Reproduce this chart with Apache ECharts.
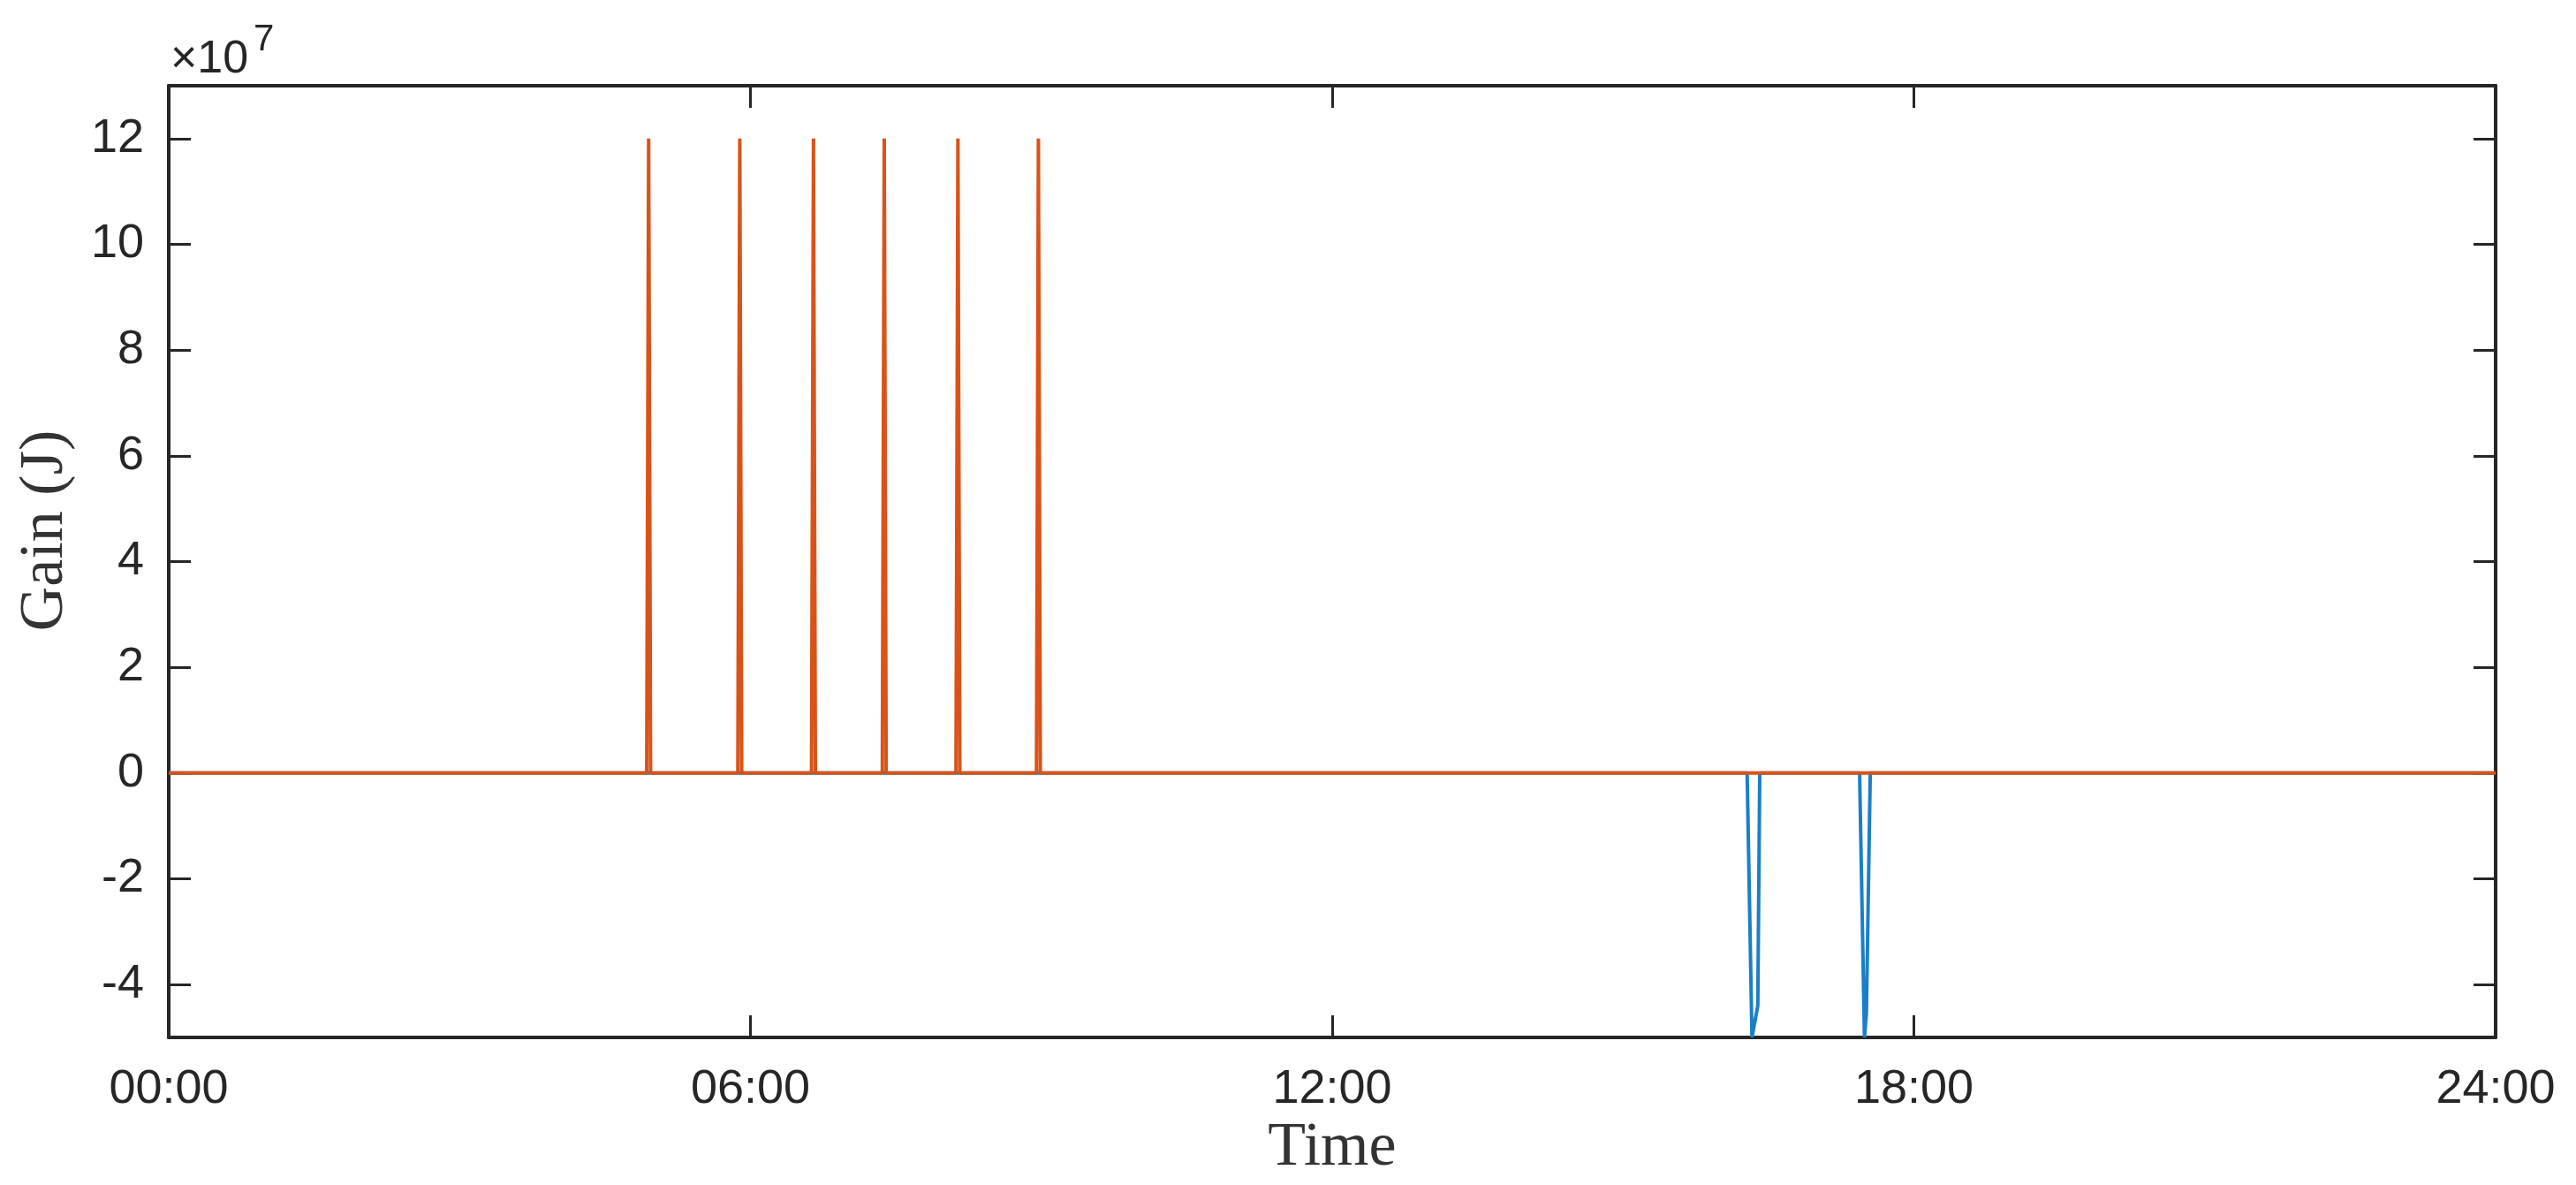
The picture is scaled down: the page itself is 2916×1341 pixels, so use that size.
<!DOCTYPE html>
<html>
<head>
<meta charset="utf-8">
<script src="https://cdn.jsdelivr.net/npm/echarts@6/dist/echarts.min.js"></script>
<style>
  html, body { margin: 0; padding: 0; background: #fff; }
  #chart { width: 2916px; height: 1341px; }
</style>
</head>
<body>
<div id="chart"></div>
<script>
// ---- Data (hours of day, gain in units of 1e7 J) ----
const orangeTimes  = [0, 4.93, 4.95, 4.97, 5.87, 5.89, 5.91, 6.63, 6.65, 6.67, 7.36, 7.38, 7.40, 8.12, 8.14, 8.16, 8.95, 8.97, 8.99, 24];
const orangeValues = [0, 0,    12,   0,    0,    12,   0,    0,    12,   0,    0,    12,   0,    0,    12,   0,    0,    12,   0,    0];

const blueTimes  = [0, 16.28, 16.33, 16.39, 16.41, 17.44, 17.49, 17.51, 17.55, 24];
const blueValues = [0, 0,     -5.0,  -4.4,  0,     0,     -5.0,  -4.55, 0,     0];

const xTicks = [0, 6, 12, 18, 24];
const yTicks = [-4, -2, 0, 2, 4, 6, 8, 10, 12];
const xLabel = 'Time';
const yLabel = 'Gain (J)';
const yExponent = '7';

const toPairs = (xs, ys) => xs.map((x, i) => [x, ys[i]]);
const fmtTime = v => String(Math.round(v)).padStart(2, '0') + ':00';

const axisColor = '#262626';
const tickFont = 'Liberation Sans';
const nameFont = 'Liberation Serif';

const chart = echarts.init(document.getElementById('chart'), null, { renderer: 'canvas' });

const commonLine = { show: true, onZero: false, lineStyle: { color: axisColor, width: 4 } };
const commonTick = { show: true, inside: true, length: 25, lineStyle: { color: axisColor, width: 3 } };

chart.setOption({
  backgroundColor: '#ffffff',
  animation: false,
  grid: { left: 191, right: 91, top: 97, bottom: 167, containLabel: false },
  xAxis: [
    {
      type: 'value', min: 0, max: 24, position: 'bottom',
      axisLine: commonLine,
      axisTick: Object.assign({ customValues: xTicks }, commonTick),
      axisLabel: { customValues: xTicks, formatter: fmtTime, color: axisColor, fontFamily: tickFont, fontSize: 54, margin: 32 },
      splitLine: { show: false },
      name: xLabel, nameLocation: 'middle', nameGap: 80,
      nameTextStyle: { fontFamily: nameFont, fontSize: 70, color: '#333333' }
    },
    {
      type: 'value', min: 0, max: 24, position: 'top',
      axisLine: commonLine,
      axisTick: Object.assign({ customValues: xTicks }, commonTick),
      axisLabel: { show: false },
      splitLine: { show: false }
    }
  ],
  yAxis: [
    {
      type: 'value', min: -5, max: 13, position: 'left',
      axisLine: commonLine,
      axisTick: Object.assign({ customValues: yTicks }, commonTick),
      axisLabel: { customValues: yTicks, color: axisColor, fontFamily: tickFont, fontSize: 54, margin: 28 },
      splitLine: { show: false },
      name: yLabel, nameLocation: 'middle', nameGap: 104, nameRotate: 90,
      nameTextStyle: { fontFamily: nameFont, fontSize: 70, color: '#333333', padding: [0, 0, 0, 70] }
    },
    {
      type: 'value', min: -5, max: 13, position: 'right',
      axisLine: commonLine,
      axisTick: Object.assign({ customValues: yTicks }, commonTick),
      axisLabel: { show: false },
      splitLine: { show: false }
    }
  ],
  graphic: [
    {
      type: 'text', left: 193, top: 42,
      style: { text: '\u00d710', fontFamily: tickFont, fontSize: 52, fill: axisColor }
    },
    {
      type: 'text', left: 287, top: 24,
      style: { text: yExponent, fontFamily: tickFont, fontSize: 42, fill: axisColor }
    }
  ],
  series: [
    {
      type: 'line', xAxisIndex: 0, yAxisIndex: 0,
      data: toPairs(blueTimes, blueValues),
      showSymbol: false, symbol: 'none',
      lineStyle: { color: '#1a7fc8', width: 4 },
      z: 2
    },
    {
      type: 'line', xAxisIndex: 0, yAxisIndex: 0,
      data: toPairs(orangeTimes, orangeValues),
      showSymbol: false, symbol: 'none',
      lineStyle: { color: '#D95319', width: 4 },
      z: 3
    }
  ]
});
</script>
</body>
</html>
